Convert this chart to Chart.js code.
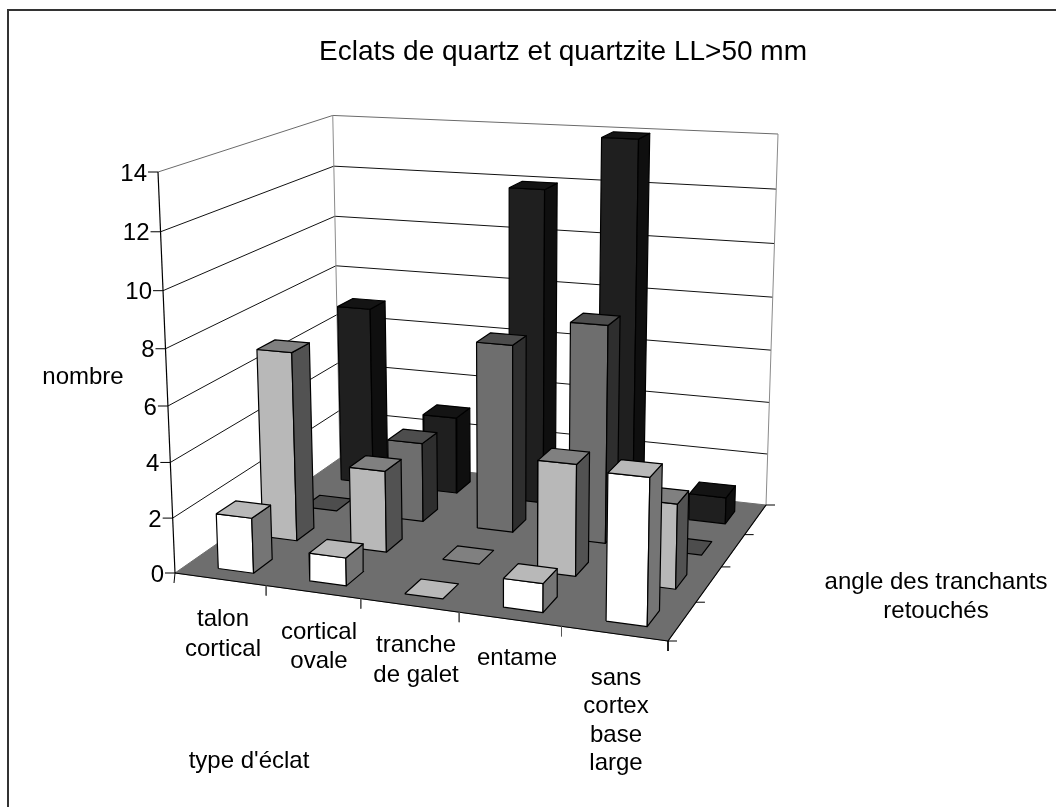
<!DOCTYPE html>
<html lang="fr">
<head>
    <meta charset="UTF-8">
    <title>Eclats de quartz et quartzite LL>50 mm</title>
    <script src="https://cdn.jsdelivr.net/npm/chart.js"></script>
    <style>
        html, body { margin: 0; padding: 0; background: #fff; }
        canvas { display: block; }
    </style>
</head>
<body>
    <canvas id="graphique" width="1056" height="807"></canvas>

    <script>
        // values, front row first
        const typesEclat = ['talon cortical', 'cortical ovale', 'tranche de galet', 'entame', 'sans cortex base large'];
        const rangee1 = [2, 1, 0, 1, 5];
        const rangee2 = [7, 3, 0, 4, 3];
        const rangee3 = [0, 3, 7, 8, 0];
        const rangee4 = [7, 3, 12, 14, 1];
        const graduations = [0, 2, 4, 6, 8, 10, 12, 14];

        const rangees = [rangee1, rangee2, rangee3, rangee4];
        // face, top, side
        const couleurs = [
            ['#ffffff', '#b8b8b8', '#757575'],
            ['#b8b8b8', '#808080', '#525252'],
            ['#6e6e6e', '#4d4d4d', '#2e2e2e'],
            ['#1f1f1f', '#141414', '#0f0f0f']
        ];
        const valeurMax = 14;

        // perspective fitted on the floor and wall corners of the picture
        const sol = [[175, 573], [668, 641], [766, 505], [340, 458]];
        const hautAvant = [158, 172];
        const hautFond = [778, 136];

        function faireProjection() {
            const [p0, p1, p2, p3] = sol;
            const dx1 = p1[0] - p2[0], dx2 = p3[0] - p2[0], sx = p0[0] - p1[0] + p2[0] - p3[0];
            const dy1 = p1[1] - p2[1], dy2 = p3[1] - p2[1], sy = p0[1] - p1[1] + p2[1] - p3[1];
            const den = dx1 * dy2 - dx2 * dy1;
            const g = (sx * dy2 - dx2 * sy) / den;
            const h = (dx1 * sy - sx * dy1) / den;
            const a = p1[0] - p0[0] + g * p1[0], b = p3[0] - p0[0] + h * p3[0], c = p0[0];
            const d = p1[1] - p0[1] + g * p1[1], e = p3[1] - p0[1] + h * p3[1], f = p0[1];
            const t0 = hautAvant, t2 = hautFond;
            const i = (a + b + t0[0] - t2[0] * (1 + g + h)) / (t2[0] - t0[0]);
            const cx = t0[0] * (i + 1) - c;
            const cy = t0[1] * (i + 1) - f;
            return function(u, w, v) {
                const z = v / valeurMax;
                const q = g * u + h * w + i * z + 1;
                return { x: (a * u + b * w + cx * z + c) / q, y: (d * u + e * w + cy * z + f) / q };
            };
        }
        const projeter = faireProjection();

        const datasets = [];

        function ajouter(points, fond, trait, epaisseur) {
            datasets.push({
                data: points.concat([points[0]]),
                showLine: true,
                pointRadius: 0,
                tension: 0,
                backgroundColor: fond || 'transparent',
                fill: fond ? 'shape' : false,
                borderColor: trait || 'transparent',
                borderWidth: epaisseur === undefined ? 1.2 : epaisseur,
                borderJoinStyle: 'round',
                order: -datasets.length,
                clip: false
            });
        }

        function segment(a, b, trait, epaisseur) {
            datasets.push({
                data: [a, b],
                showLine: true,
                pointRadius: 0,
                tension: 0,
                fill: false,
                borderColor: trait,
                borderWidth: epaisseur,
                order: -datasets.length,
                clip: false
            });
        }

        // walls
        graduations.forEach(function(v) {
            const trait = v === valeurMax ? '#6a6a6a' : '#111111';
            if (v > 0) {
                segment(projeter(0, 0, v), projeter(0, 1, v), trait, 1);
                segment(projeter(0, 1, v), projeter(1, 1, v), trait, 1);
            }
        });
        segment(projeter(0, 1, 0), projeter(0, 1, valeurMax), '#8a8a8a', 1);
        segment(projeter(1, 1, 0), projeter(1, 1, valeurMax), '#8a8a8a', 1);

        // floor
        ajouter([projeter(0, 0, 0), projeter(1, 0, 0), projeter(1, 1, 0), projeter(0, 1, 0)], '#6e6e6e', '#6e6e6e', 1);
        segment(projeter(0, 0, 0), projeter(1, 0, 0), '#000000', 1.2);
        segment(projeter(1, 0, 0), projeter(1, 1, 0), '#000000', 1.2);
        segment(projeter(0, 0, 0), projeter(0, 0, valeurMax), '#000000', 1.2);

        // axis ticks
        const decalage = function(p, dx, dy) { return { x: p.x + dx, y: p.y + dy }; };
        graduations.forEach(function(v) {
            const p = projeter(0, 0, v);
            segment(p, decalage(p, -10, 0), '#000000', 1);
        });
        typesEclat.forEach(function(t, i) {
            const p = projeter((i + 1) / typesEclat.length, 0, 0);
            segment(p, decalage(p, 0, 10), i === typesEclat.length - 1 ? '#000000' : '#555555', 1);
        });
        segment(projeter(0, 0, 0), decalage(projeter(0, 0, 0), -1, 10), '#000000', 1);
        rangees.forEach(function(r, j) {
            const p = projeter(1, j / rangees.length, 0);
            segment(p, decalage(p, 9, 0), '#000000', 1);
        });
        segment(projeter(1, 1, 0), decalage(projeter(1, 1, 0), 9, 0), '#000000', 1);

        // bars, back row first
        const largeur = 0.39 / typesEclat.length;
        const profondeur = 0.42 / rangees.length;
        for (let j = rangees.length - 1; j >= 0; j--) {
            for (let i = 0; i < typesEclat.length; i++) {
                const v = rangees[j][i];
                const u0 = (i + 0.5) / typesEclat.length + 0.008 - largeur / 2, u1 = u0 + largeur;
                const w0 = (j + 0.5) / rangees.length - 0.06, w1 = w0 + profondeur;
                const [face, dessus, cote] = couleurs[j];
                const traitBarre = '#000000';
                if (v > 0) {
                    ajouter([projeter(u0, w0, 0), projeter(u1, w0, 0), projeter(u1, w0, v), projeter(u0, w0, v)], face, traitBarre);
                    ajouter([projeter(u1, w0, 0), projeter(u1, w1, 0), projeter(u1, w1, v), projeter(u1, w0, v)], cote, traitBarre);
                }
                ajouter([projeter(u0, w0, v), projeter(u1, w0, v), projeter(u1, w1, v), projeter(u0, w1, v)], dessus, traitBarre);
            }
        }

        const police = '"Liberation Sans", Arial, sans-serif';
        const etiquettes = {
            id: 'etiquettes',
            afterDraw(chart) {
                const ctx = chart.ctx;
                ctx.save();
                ctx.fillStyle = '#000000';
                ctx.font = '24px ' + police;
                ctx.textBaseline = 'middle';

                ctx.textAlign = 'right';
                graduations.forEach(function(v) {
                    const p = projeter(0, 0, v);
                    ctx.fillText(String(v), p.x - 11, p.y + 2);
                });

                ctx.textAlign = 'center';
                const lignes = [
                    [['talon', 223, 619], ['cortical', 223, 649]],
                    [['cortical', 319, 632], ['ovale', 319, 661]],
                    [['tranche', 416, 645], ['de galet', 416, 675]],
                    [['entame', 517, 658]],
                    [['sans', 616, 678], ['cortex', 616, 706], ['base', 616, 735], ['large', 616, 763]]
                ];
                lignes.forEach(function(l) {
                    l.forEach(function(t) { ctx.fillText(t[0], t[1], t[2]); });
                });
                ctx.fillText('nombre', 83, 377);
                ctx.fillText("type d'éclat", 249, 761);
                ctx.fillText('angle des tranchants', 936, 582);
                ctx.fillText('retouchés', 936, 611);

                // outer frame, top and left only
                ctx.fillStyle = '#333333';
                ctx.fillRect(7, 9, 1049, 2);
                ctx.fillRect(7, 9, 2, 798);
                ctx.restore();
            }
        };

        new Chart(document.getElementById('graphique'), {
            type: 'scatter',
            data: { datasets: datasets },
            plugins: [etiquettes],
            options: {
                responsive: false,
                animation: false,
                events: [],
                layout: { padding: { left: 70, top: 35 } },
                plugins: {
                    legend: { display: false },
                    tooltip: { enabled: false },
                    title: {
                        display: true,
                        text: 'Eclats de quartz et quartzite LL>50 mm',
                        color: '#000000',
                        font: { family: police, size: 28, weight: 'normal', lineHeight: 1.2 },
                        padding: { top: 0, bottom: 0 }
                    }
                },
                scales: {
                    x: { display: false, type: 'linear', min: 70, max: 1056 },
                    y: { display: false, type: 'linear', min: 68.6, max: 807, reverse: true }
                }
            }
        });
    </script>
</body>
</html>
